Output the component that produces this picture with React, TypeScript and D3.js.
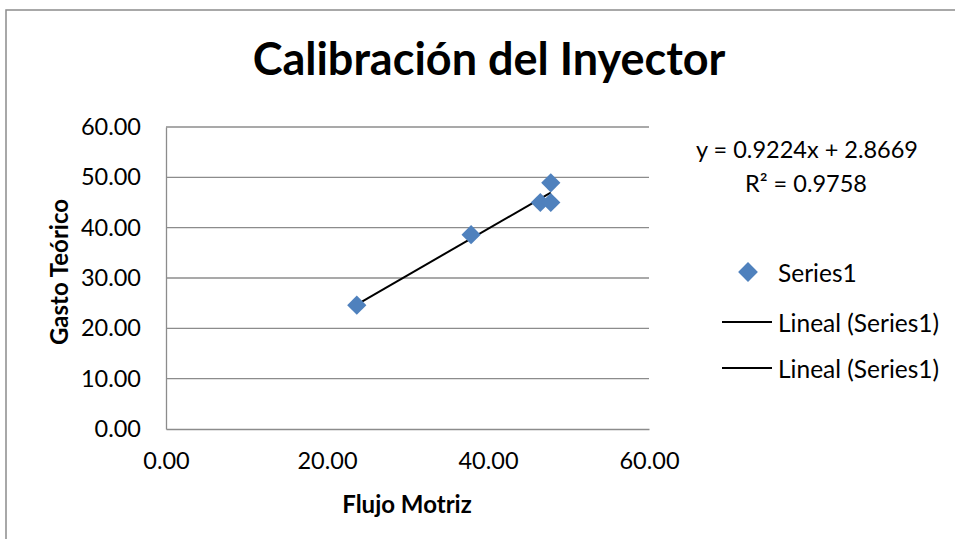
import React, { useEffect, useRef } from 'react';
import { axisBottom, axisLeft, line, scaleLinear, select, symbol, symbolSquare } from 'd3';

// valores
const flujoMotriz = [23.7, 37.9, 46.5, 47.8, 47.8];
const gastoTeorico = [24.6, 38.6, 45.0, 45.0, 48.9];
const ticks = [0, 10, 20, 30, 40, 50, 60];
const xTicks = [0, 20, 40, 60];
const pendiente = 0.9224;
const intercepto = 2.8669;
const ecuacion = 'y = 0.9224x + 2.8669';
const r2 = 'R² = 0.9758';
const leyenda = ['Series1', 'Lineal (Series1)', 'Lineal (Series1)'];

const W = 955, H = 539;
const margin = { top: 127, right: 306, bottom: 110, left: 166 };
const width = W - margin.left - margin.right;
const height = H - margin.top - margin.bottom;
const FONT = 'Lato, "Open Sans", sans-serif';
const AZUL = '#4f81bd';

export default function App() {
  const svgRef = useRef<SVGSVGElement>(null);

  useEffect(() => {
    const svg = select(svgRef.current);
    const x = scaleLinear().domain([0, 60]).range([0, width]);
    const y = scaleLinear().domain([0, 60]).range([height, 0]);
    const g = svg.select('.plot');

    // lineas de cuadricula
    g.select('.grid')
      .selectAll('line')
      .data(ticks.filter((t) => t > 0))
      .join('line')
      .attr('x1', 0)
      .attr('x2', width)
      .attr('y1', (d) => y(d))
      .attr('y2', (d) => y(d))
      .attr('stroke', '#8c8c8c')
      .attr('stroke-width', 1.3);

    const yAxis = g.select<SVGGElement>('.y-axis')
      .call(axisLeft(y).tickValues(ticks).tickSize(0).tickPadding(25).tickFormat((d) => (d as number).toFixed(2)));
    yAxis.select('.domain').attr('stroke', '#8c8c8c').attr('stroke-width', 1.3);
    yAxis.selectAll('text').attr('font-family', FONT).attr('font-size', 23.5).attr('fill', '#000');

    const xAxis = g.select<SVGGElement>('.x-axis')
      .attr('transform', `translate(0, ${height})`)
      .call(axisBottom(x).tickValues(xTicks).tickSize(0).tickPadding(23).tickFormat((d) => (d as number).toFixed(2)));
    xAxis.select('.domain').attr('stroke', '#8c8c8c').attr('stroke-width', 1.3);
    xAxis.selectAll('text').attr('font-family', FONT).attr('font-size', 23.5).attr('fill', '#000');

    // linea de tendencia
    const xmin = Math.min(...flujoMotriz);
    const xmax = Math.max(...flujoMotriz);
    const tendencia = line<number>()
      .x((d) => x(d))
      .y((d) => y(pendiente * d + intercepto));
    g.select('.trend')
      .attr('d', tendencia([xmin, xmax]))
      .attr('stroke', '#000')
      .attr('stroke-width', 2)
      .attr('fill', 'none');

    const diamante = symbol().type(symbolSquare).size(185);
    g.select('.points')
      .selectAll('path')
      .data(flujoMotriz.map((f, i) => ({ f, gst: gastoTeorico[i] })))
      .join('path')
      .attr('d', diamante())
      .attr('transform', (d) => `translate(${x(d.f)}, ${y(d.gst)}) rotate(45)`)
      .attr('fill', AZUL);
  }, []);

  const leyendaY = [272, 322, 368];

  return (
    <svg ref={svgRef} width={W} height={H} style={{ position: 'absolute', left: 0, top: 0, background: '#fff' }}>
      <rect x={6} y={10} width={W + 10} height={H + 10} fill="#fff" stroke="#8c8c8c" strokeWidth={1.5} />
      <text x={489} y={75} textAnchor="middle" fontFamily={FONT} fontWeight="bold" fontSize={45}>
        Calibración del Inyector
      </text>
      <g className="plot" transform={`translate(${margin.left}, ${margin.top})`}>
        <g className="grid" />
        <g className="y-axis" />
        <g className="x-axis" />
        <path className="trend" />
        <g className="points" />
      </g>
      <text x={407} y={503} textAnchor="middle" dominantBaseline="central" fontFamily={FONT} fontWeight="bold" fontSize={24}>
        Flujo Motriz
      </text>
      <text transform="translate(58, 272) rotate(-90)" textAnchor="middle" dominantBaseline="central" fontFamily={FONT} fontWeight="bold" fontSize={24}>
        Gasto Teórico
      </text>
      <text x={807} y={158} textAnchor="middle" fontFamily={FONT} fontSize={23.5}>
        {ecuacion}
      </text>
      <text x={806} y={192} textAnchor="middle" fontFamily={FONT} fontSize={23.5}>
        {r2}
      </text>
      {leyenda.map((nombre, i) => (
        <g key={i}>
          {i === 0 ? (
            <rect x={748 - 7} y={leyendaY[i] - 7} width={14} height={14} fill={AZUL} transform={`rotate(45, 748, ${leyendaY[i]})`} />
          ) : (
            <line x1={722} x2={772} y1={leyendaY[i]} y2={leyendaY[i]} stroke="#000" strokeWidth={2} />
          )}
          <text x={778} y={leyendaY[i]} dominantBaseline="central" fontFamily={FONT} fontSize={24.5}>
            {nombre}
          </text>
        </g>
      ))}
    </svg>
  );
}
